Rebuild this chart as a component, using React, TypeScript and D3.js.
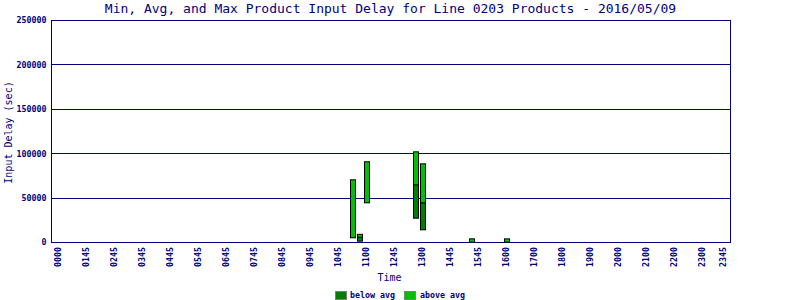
import React from "react";
import * as d3 from "d3";

const barTimes = ["1030", "1045", "1100", "1245", "1300", "1445", "1600"];
const minVals = [5300, 1500, 44700, 27400, 14300, 300, 300];
const avgVals = [5300, 5900, 44700, 65000, 44700, 300, 300];
const maxVals = [70600, 9200, 90900, 102100, 88600, 4100, 4100];

const tickLabels = ["0000", "0145", "0245", "0345", "0445", "0545", "0645", "0745", "0845", "0945", "1045", "1100", "1245", "1300", "1445", "1545", "1600", "1700", "1800", "1900", "2000", "2100", "2200", "2300", "2345"];
const tickHours = [0, 1, 2, 3, 4, 5, 6, 7, 8, 9, 10, 11, 12, 13, 14, 15, 16, 17, 18, 19, 20, 21, 22, 23, 23.75];
const yTicks = [0, 50000, 100000, 150000, 200000, 250000];

const NAVY = "#000080";
const DARK = "#008000";
const LIGHT = "#00C000";
const MONO = "'DejaVu Sans Mono', 'Liberation Mono', monospace";

function toHours(t: string): number {
  return +t.slice(0, 2) + +t.slice(2) / 60;
}

export default function App() {
  const W = 800, H = 300;
  const x = d3.scaleLinear().domain([-0.25, 24]).range([51.5, 730.5]);
  const y = d3.scaleLinear().domain([0, 250000]).range([242.5, 20.5]);
  const bw = 5;

  return (
    <svg width={W} height={H} style={{ position: "absolute", left: 0, top: 0, background: "#fff" }}>
      <text x={390.5} y={13} textAnchor="middle" fontFamily={MONO} fontSize={13} fill={NAVY}>
        Min, Avg, and Max Product Input Delay for Line 0203 Products - 2016/05/09
      </text>
      {yTicks.map((v) => (
        <g key={v}>
          <line x1={x.range()[0]} x2={x.range()[1]} y1={Math.round(y(v) - 0.5) + 0.5} y2={Math.round(y(v) - 0.5) + 0.5} stroke={NAVY} strokeWidth={1} />
          <text x={46.5} y={y(v)} dy="0.35em" textAnchor="end" fontFamily={MONO} fontSize={8.3} fontWeight="bold" fill={NAVY}>
            {v}
          </text>
        </g>
      ))}
      <rect x={51.5} y={20.5} width={679} height={222} fill="none" stroke={NAVY} strokeWidth={1} />
      {tickLabels.map((lab, i) => (
        <text
          key={lab}
          transform={`translate(${x(tickHours[i]) + 2.5},247) rotate(-90)`}
          textAnchor="end"
          fontFamily={MONO}
          fontSize={8.3}
          fontWeight="bold"
          fill={NAVY}
        >
          {lab}
        </text>
      ))}
      {barTimes.map((t, i) => {
        const cx = x(toHours(t));
        const bx = cx - 2;
        const yMax = y(maxVals[i]);
        const yAvg = y(avgVals[i]);
        const yMin = y(minVals[i]);
        return (
          <g key={t}>
            {yMin - yAvg > 0.5 && (
              <rect x={bx} y={yAvg} width={bw} height={yMin - yAvg} fill={DARK} stroke="#000" strokeWidth={1} />
            )}
            <rect x={bx} y={yMax} width={bw} height={Math.max(yAvg - yMax, 1)} fill={LIGHT} stroke="#000" strokeWidth={1} />
          </g>
        );
      })}
      <text x={389.5} y={281} textAnchor="middle" fontFamily={MONO} fontSize={10} fill={NAVY}>
        Time
      </text>
      <text transform="translate(11.5,132.5) rotate(-90)" textAnchor="middle" fontFamily={MONO} fontSize={10} fill={NAVY}>
        Input Delay (sec)
      </text>
      <rect x={335.5} y={291.5} width={11} height={8} fill={DARK} stroke="#808080" strokeWidth={1} />
      <text x={350} y={298} fontFamily={MONO} fontSize={8.3} fontWeight="bold" fill={NAVY}>
        below avg
      </text>
      <rect x={404.5} y={291.5} width={11} height={8} fill={LIGHT} stroke="#808080" strokeWidth={1} />
      <text x={420} y={298} fontFamily={MONO} fontSize={8.3} fontWeight="bold" fill={NAVY}>
        above avg
      </text>
    </svg>
  );
}
